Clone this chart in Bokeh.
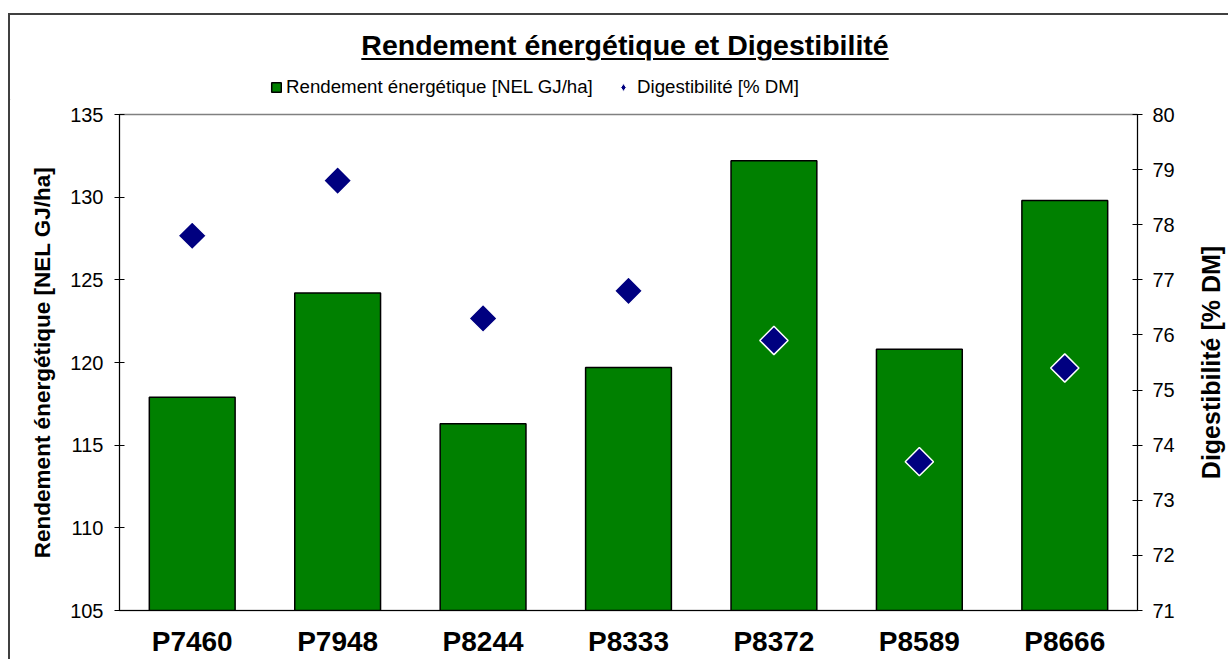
from bokeh.plotting import figure
from bokeh.models import (Range1d, LinearAxis, FactorRange, Legend, LegendItem,
                          FixedTicker, ColumnDataSource, Div, Title)
from bokeh.layouts import column, row
from bokeh.embed import file_html
from bokeh.resources import INLINE

varieties = ["P7460", "P7948", "P8244", "P8333", "P8372", "P8589", "P8666"]
rendement = [117.9, 124.2, 116.3, 119.7, 132.2, 120.8, 129.8]
digestibilite = [77.8, 78.8, 76.3, 76.8, 75.9, 73.7, 75.4]
left_ticks = [105, 110, 115, 120, 125, 130, 135]
right_ticks = [71, 72, 73, 74, 75, 76, 77, 78, 79, 80]

title_text = "Rendement énergétique et Digestibilité"
bar_name = "Rendement énergétique [NEL GJ/ha]"
dot_name = "Digestibilité [% DM]"

FONT = "Liberation Sans"
GREEN = "#008000"
NAVY = "#000080"

src = ColumnDataSource(dict(x=varieties, r=rendement, d=digestibilite))

# ---------------- main chart ----------------
p = figure(x_range=FactorRange(*varieties, range_padding=0),
           y_range=Range1d(105, 135),
           width=1178, height=559, output_backend="svg", toolbar_location=None,
           min_border_left=109, min_border_right=51, min_border_top=14,
           min_border_bottom=47)
p.extra_y_ranges = {"dig": Range1d(71, 80)}
p.grid.visible = False
p.outline_line_color = "#808080"
p.outline_line_width = 1.5
p.background_fill_color = "white"
p.border_fill_color = "white"

p.vbar(x="x", top="r", bottom=105, width=0.59, source=src,
       fill_color=GREEN, line_color="black", line_width=1.5)
p.scatter(x="x", y="d", source=src, y_range_name="dig", marker="square",
          angle=0.785398, size=20, fill_color=NAVY,
          line_color="white", line_width=1.5)

ax = p.yaxis[0]
ax.ticker = FixedTicker(ticks=left_ticks)
ax.axis_label = bar_name

ax2 = LinearAxis(y_range_name="dig", ticker=FixedTicker(ticks=right_ticks))
p.add_layout(ax2, "right")

for a in [ax, ax2]:
    a.axis_line_color = "black"
    a.axis_line_width = 1
    a.major_tick_line_color = "black"
    a.major_tick_in = 5
    a.major_tick_out = 5
    a.minor_tick_line_color = None
    a.major_label_text_font = FONT
    a.major_label_text_font_size = "20px"
    a.major_label_text_color = "black"

ax.major_label_standoff = 11
ax.axis_label_text_font = FONT
ax.axis_label_text_font_style = "bold"
ax.axis_label_text_color = "black"
ax.axis_label_text_font_size = "22.5px"
ax.axis_label_standoff = 12
ax2.major_label_standoff = 10

xa = p.xaxis[0]
xa.axis_line_color = "black"
xa.major_tick_line_color = None
xa.major_tick_in = 0
xa.major_tick_out = 0
xa.minor_tick_line_color = None
xa.major_label_text_font = FONT
xa.major_label_text_font_size = "28px"
xa.major_label_text_font_style = "bold"
xa.major_label_text_color = "black"
xa.major_label_standoff = 15

# ---------------- right axis title strip (reads bottom-to-top) ----------------
side = figure(x_range=Range1d(0, 1), y_range=Range1d(0, 1), width=40, height=559,
              output_backend="svg", toolbar_location=None,
              min_border_left=36, min_border_right=0, min_border_top=14,
              min_border_bottom=47, x_axis_type=None, y_axis_type=None)
side.grid.visible = False
side.outline_line_color = None
side.border_fill_color = "white"
side.background_fill_color = "white"
side.scatter(x=[-10], y=[-10], size=1, color="white")
side.add_layout(Title(text=dot_name, align="center", text_font=FONT,
                      text_font_size="25px", text_font_style="bold",
                      text_color="black", standoff=0, offset=0), "left")

# ---------------- legend strip ----------------
lg = figure(x_range=Range1d(0, 1), y_range=Range1d(0, 1), width=1218, height=40,
            output_backend="svg", toolbar_location=None,
            min_border=0, x_axis_type=None, y_axis_type=None)
lg.grid.visible = False
lg.outline_line_color = None
lg.border_fill_color = "white"
r_bar = lg.vbar(x=[-10], top=[-5], bottom=-10, width=0.5,
                fill_color=GREEN, line_color="black", line_width=1.5)
r_dot = lg.scatter(x=[-10], y=[-10], marker="diamond", size=20,
                   fill_color=NAVY, line_color="white", line_width=1)

common = dict(orientation="horizontal", label_text_font=FONT,
              label_text_font_size="18.7px", label_text_color="black",
              border_line_color=None, background_fill_alpha=0, padding=0,
              spacing=0, label_height=18, label_standoff=4, margin=0)
legend1 = Legend(items=[LegendItem(label=bar_name, renderers=[r_bar])],
                 location=(260, 2), glyph_width=12, glyph_height=12, **common)
legend2 = Legend(items=[LegendItem(label=dot_name, renderers=[r_dot])],
                 location=(603, 2), glyph_width=20, glyph_height=20, **common)
lg.add_layout(legend1, "center")
lg.add_layout(legend2, "center")

# ---------------- title ----------------
title_div = Div(
    text=('<div style="width:1218px;text-align:center;">'
          '<span style="position:relative;left:6px;font-family:\'Liberation Sans\';'
          'font-size:28.5px;font-weight:bold;text-decoration:underline;'
          'text-decoration-thickness:2px;text-underline-offset:3px;color:black;'
          'line-height:32px;">' + title_text + '</span></div>'),
    width=1218, height=45,
    styles={"padding-top": "14px", "box-sizing": "border-box", "margin": "0"})

layout = column(title_div, lg, row(p, side, spacing=0), spacing=0,
                margin=(13, 0, 0, 8),
                styles={"border-left": "2px solid #404040",
                        "border-top": "2px solid #404040",
                        "background-color": "white"})

open("out.html", "w").write(file_html(layout, INLINE))
